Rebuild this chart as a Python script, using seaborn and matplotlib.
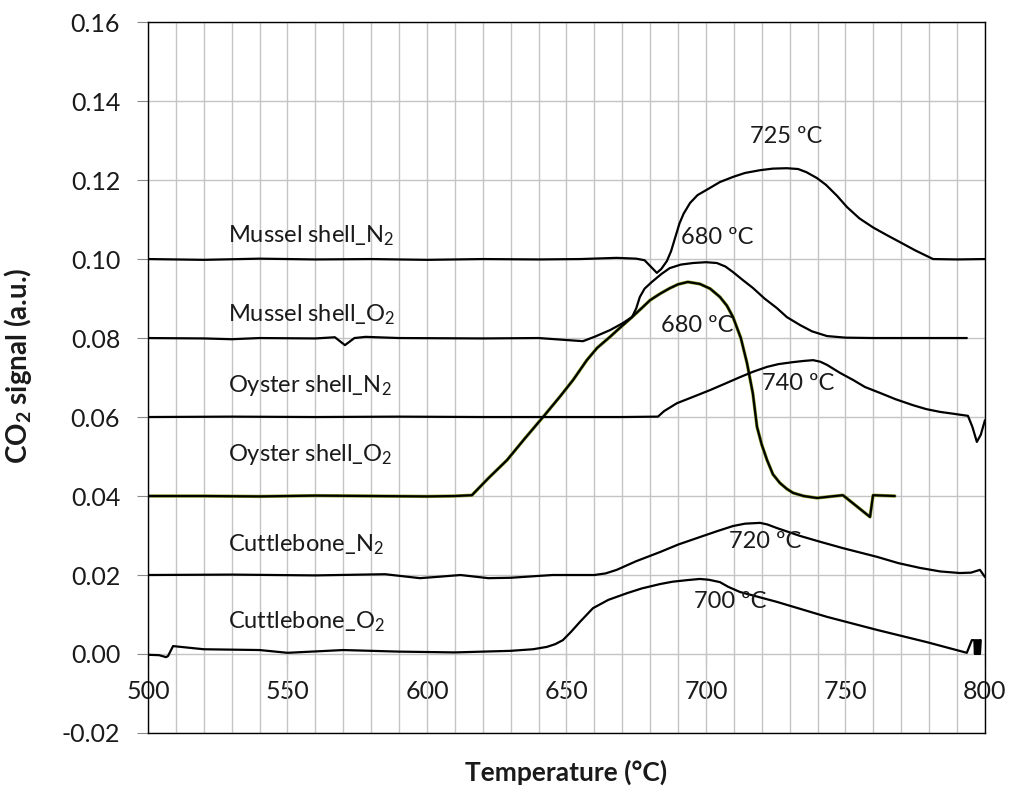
import numpy as np
import pandas as pd
import matplotlib
matplotlib.use("Agg")
import matplotlib.pyplot as plt
import seaborn as sns

# ---------------- data ----------------
mussel_n2_x = [500, 520, 540, 560, 580, 600, 620, 640, 655, 668, 675, 678, 682.4, 684, 686, 687.5, 689, 690.5,
               692, 694.3, 697, 701.4, 705, 709.7, 714, 719.4, 724, 729, 733, 736, 739.8, 743, 747, 750.5, 755,
               759.9, 765, 769.5, 775, 781.4, 790, 800]
mussel_n2_y = [0.1000, 0.0998, 0.1001, 0.0999, 0.1000, 0.0998, 0.1000, 0.0999, 0.1000, 0.1003, 0.1001, 0.0997,
               0.0965, 0.0975, 0.0995, 0.1020, 0.1055, 0.1090, 0.1115, 0.1142, 0.1162, 0.1180, 0.1195, 0.1208,
               0.1218, 0.1225, 0.1229, 0.1230, 0.1228, 0.1220, 0.1205, 0.1188, 0.1160, 0.1132, 0.1103, 0.1080,
               0.1060, 0.1043, 0.1022, 0.1000, 0.0999, 0.1000]

mussel_o2_x = [500, 520, 530, 540, 560, 567, 570.6, 574, 578, 590, 620, 640, 650, 655.9, 660, 665.6, 670, 673.5,
               675, 676.3, 678, 680.6, 684, 687, 691, 695.4, 700, 703.9, 707, 709.7, 713, 716.8, 721, 725.4,
               729, 733.7, 738, 743.4, 750, 760, 780, 793.5]
mussel_o2_y = [0.0800, 0.0799, 0.0797, 0.0800, 0.0799, 0.0802, 0.0782, 0.0800, 0.0803, 0.0800, 0.0799, 0.0800,
               0.0795, 0.0792, 0.0803, 0.0820, 0.0837, 0.0853, 0.0875, 0.0904, 0.0925, 0.0942, 0.0962, 0.0977,
               0.0986, 0.0990, 0.0992, 0.0990, 0.0981, 0.0967, 0.0948, 0.0927, 0.0900, 0.0876, 0.0853, 0.0833,
               0.0817, 0.0805, 0.0801, 0.0800, 0.0800, 0.0800]

oyster_n2_x = [500, 530, 560, 590, 620, 650, 670, 682.8, 685, 689.6, 695, 701.4, 707, 712.2, 717, 721.9, 726,
               731.2, 735, 738.4, 741, 743.4, 748, 752.7, 757, 762.4, 768, 774.2, 779, 783.9, 789, 793.9, 795.5,
               797.1, 798.5, 800]
oyster_n2_y = [0.0600, 0.0601, 0.0600, 0.0601, 0.0600, 0.0600, 0.0600, 0.0601, 0.0615, 0.0635, 0.0650, 0.0668,
               0.0685, 0.0701, 0.0715, 0.0727, 0.0734, 0.0739, 0.0742, 0.0744, 0.0740, 0.0732, 0.0712, 0.0694,
               0.0676, 0.0661, 0.0645, 0.0630, 0.0620, 0.0613, 0.0608, 0.0603, 0.0575, 0.0537, 0.0555, 0.0592]

oyster_o2_x = [500, 520, 540, 560, 580, 600, 610, 616.1, 622, 628.7, 635, 641.6, 647.7, 652.4, 657.3, 661,
               665.6, 669.5, 673.5, 677, 680, 683.5, 687, 690, 693.5, 697.8, 701.5, 705, 707.5, 709.7, 712.5,
               714.7, 716.8, 718.3, 720, 721.9, 724, 726.5, 729, 731.2, 735, 739.8, 745, 749.1, 758.8, 759.9,
               767.7]
oyster_o2_y = [0.0400, 0.0400, 0.0399, 0.0401, 0.0400, 0.0399, 0.0400, 0.0402, 0.0445, 0.0491, 0.0545, 0.0600,
               0.0652, 0.0694, 0.0744, 0.0775, 0.0803, 0.0828, 0.0853, 0.0876, 0.0896, 0.0912, 0.0926, 0.0936,
               0.0942, 0.0937, 0.0925, 0.0904, 0.0882, 0.0853, 0.0800, 0.0737, 0.0660, 0.0575, 0.0530, 0.0491,
               0.0455, 0.0433, 0.0418, 0.0408, 0.0400, 0.0395, 0.0399, 0.0402, 0.0347, 0.0402, 0.0400]

cuttle_n2_x = [500, 530, 560, 585, 597.5, 605, 612, 622, 630, 645, 660, 664, 668, 675, 683.5, 690, 697.8, 704,
               709.7, 714, 719.4, 722, 725.4, 733.7, 741, 749.1, 761.3, 769, 776.7, 784, 791, 795, 798.2, 800]
cuttle_n2_y = [0.0200, 0.0201, 0.0199, 0.0202, 0.0192, 0.0196, 0.0200, 0.0192, 0.0193, 0.0200, 0.0200, 0.0204,
               0.0213, 0.0235, 0.0258, 0.0277, 0.0296, 0.0311, 0.0324, 0.0330, 0.0332, 0.0328, 0.0319, 0.0299,
               0.0284, 0.0268, 0.0246, 0.0230, 0.0218, 0.0209, 0.0205, 0.0206, 0.0213, 0.0195]

cuttle_o2_x = [500, 504, 506.5, 507.2, 509, 520, 540, 550, 570, 590, 610, 630, 638, 643, 646, 648.7, 651.5,
               654.8, 659.5, 665, 671.7, 677, 683.5, 688, 693.2, 697.8, 701, 705, 708, 712.2, 725.4, 743.4,
               761.3, 779.2, 793.5, 795.3, 796.2, 796.4, 796.8, 797.0, 797.4, 797.6, 798.0, 798.2, 798.5]
cuttle_o2_y = [-0.0002, -0.0003, -0.0008, -0.0005, 0.0020, 0.0012, 0.0010, 0.0003, 0.0010, 0.0006, 0.0004,
               0.0008, 0.0012, 0.0018, 0.0025, 0.0035, 0.0055, 0.0081, 0.0116, 0.0137, 0.0154, 0.0166, 0.0177,
               0.0183, 0.0187, 0.0190, 0.0188, 0.0182, 0.0170, 0.0157, 0.0132, 0.0094, 0.0061, 0.0030, 0.0003,
               0.0035, 0.0035, 0.0000, 0.0035, 0.0000, 0.0035, 0.0000, 0.0035, 0.0000, 0.0035]

series_names = ["Mussel shell_N2", "Mussel shell_O2", "Oyster shell_N2", "Oyster shell_O2",
                "Cuttlebone_N2", "Cuttlebone_O2"]
series_x = [mussel_n2_x, mussel_o2_x, oyster_n2_x, oyster_o2_x, cuttle_n2_x, cuttle_o2_x]
series_y = [mussel_n2_y, mussel_o2_y, oyster_n2_y, oyster_o2_y, cuttle_n2_y, cuttle_o2_y]

series_labels = [r"Mussel shell_$\mathregular{N_2}$", r"Mussel shell_$\mathregular{O_2}$",
                 r"Oyster shell_$\mathregular{N_2}$", r"Oyster shell_$\mathregular{O_2}$",
                 r"Cuttlebone_$\mathregular{N_2}$", r"Cuttlebone_$\mathregular{O_2}$"]
series_label_y = [0.1058, 0.0858, 0.0681, 0.0504, 0.0276, 0.0081]

peak_text = ["725 ºC", "680 ºC", "680 ºC", "740 ºC", "720 ºC", "700 ºC"]
peak_x = [728.7, 704.0, 696.8, 733.0, 721.1, 708.6]
peak_y = [0.1310, 0.1055, 0.0833, 0.0684, 0.0286, 0.0132]

x_ticks = [500, 550, 600, 650, 700, 750, 800]
y_ticks = [-0.02, 0.0, 0.02, 0.04, 0.06, 0.08, 0.10, 0.12, 0.14, 0.16]

# ---------------- build long table ----------------
frames = []
for n, xs, ys in zip(series_names, series_x, series_y):
    frames.append(pd.DataFrame({"T": xs, "CO2": ys, "series": n}))
df = pd.concat(frames, ignore_index=True)

sns.set_theme(style="white")
plt.rcParams["font.family"] = ["Lato", "DejaVu Sans"]
plt.rcParams["mathtext.fontset"] = "custom"
plt.rcParams["mathtext.rm"] = "Lato"
plt.rcParams["mathtext.bf"] = "Lato:bold"

TXT = "#1a1a1a"
fig = plt.figure(figsize=(10.10, 7.89), dpi=100)
ax = fig.add_axes([0.1465, 0.071, 0.8287, 0.901])

# gridlines
ax.set_xticks(np.arange(500, 801, 10), minor=True)
ax.set_xticks([])
ax.set_yticks(y_ticks)
ax.grid(True, which="minor", axis="x", color="#c4c4c4", linewidth=1.0)
ax.grid(True, which="major", axis="y", color="#c4c4c4", linewidth=1.0)
ax.set_axisbelow(True)

# Oyster shell O2 thin yellow-green halo
oy = df[df.series == "Oyster shell_O2"]
ax.plot(oy["T"], oy["CO2"], color="#8ea82e", linewidth=2.4, zorder=2, solid_capstyle="round")

for n in series_names:
    sub = df[df.series == n]
    sns.lineplot(data=sub, x="T", y="CO2", sort=False, estimator=None, color="black",
                 linewidth=1.6, ax=ax, zorder=3)

ax.set_xlim(500, 800)
ax.set_ylim(-0.02, 0.16)

for s in ax.spines.values():
    s.set_color("black")
    s.set_linewidth(1.0)

ax.tick_params(axis="x", which="both", bottom=False, labelbottom=False, length=0)
ax.tick_params(axis="y", which="major", left=True, length=8, width=0.8, color="#8a8a8a",
               pad=12, labelsize=18, labelcolor=TXT)
ax.set_yticklabels([f"{v:.2f}" for v in y_ticks])

# x axis crossing at y = 0
sec = ax.secondary_xaxis(0.02 / 0.18)
sec.set_xticks(x_ticks)
sec.set_xticks(np.arange(500, 801, 10), minor=True)
sec.set_xticklabels([str(v) for v in x_ticks])
sec.tick_params(axis="x", which="major", direction="out", length=8, width=0.8, color="#8a8a8a",
                pad=11, labelsize=18, labelcolor=TXT)
sec.tick_params(axis="x", which="minor", length=0)
sec.spines["bottom"].set_visible(False)

ax.set_xlabel("")
ax.text(0.5, -0.056, "Temperature (°C)", transform=ax.transAxes, fontsize=19, fontweight="bold",
        color=TXT, ha="center", va="center")
ax.set_ylabel(r"$\mathbf{CO_2}$ signal (a.u.)", fontsize=20, fontweight="bold", color=TXT)
ax.yaxis.set_label_coords(-0.136, 0.516)

for lab, ly in zip(series_labels, series_label_y):
    ax.text(528.7, ly, lab, fontsize=17, color=TXT, ha="left", va="center")

for t, px, py in zip(peak_text, peak_x, peak_y):
    ax.text(px, py, t, fontsize=17, color=TXT, ha="center", va="center")

fig.savefig("out.png", dpi=100)
